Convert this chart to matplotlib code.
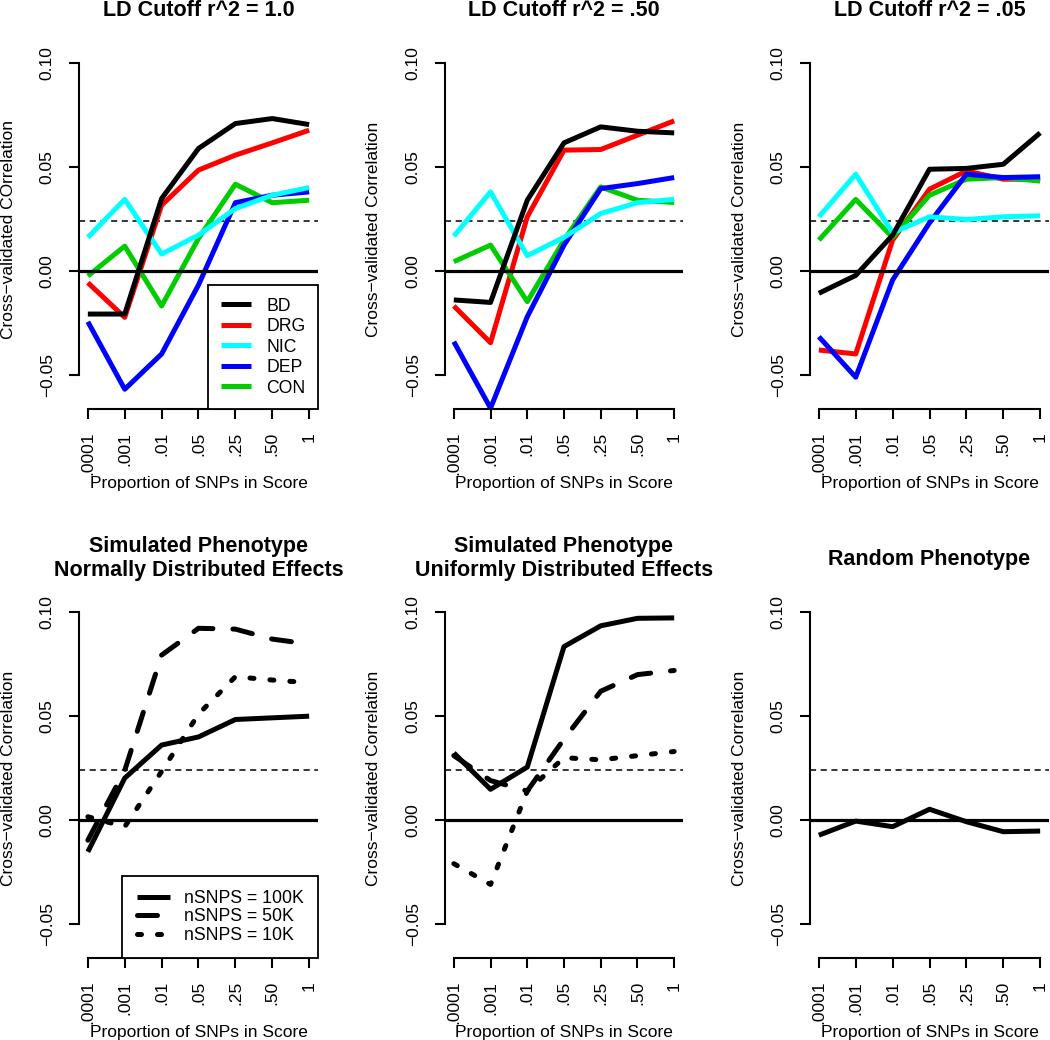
import numpy as np
import matplotlib
matplotlib.use('Agg')
import matplotlib.pyplot as plt

plt.rcParams['font.family'] = ['Liberation Sans', 'DejaVu Sans']

# x categories: proportion of SNPs kept in the score
props = ['.0001', '.001', '.01', '.05', '.25', '.50', '1']
yticks = [-0.05, 0.0, 0.05, 0.10]
ytick_labels = ['\u22120.05', '0.00', '0.05', '0.10']
cutoff = 0.024

phenos = ['BD', 'DRG', 'NIC', 'DEP', 'CON']
pheno_colors = ['black', '#FF0000', '#00FFFF', '#0000FF', '#00CD00']
draw_order = [1, 4, 3, 2, 0]   # DRG, CON, DEP, NIC, BD (last on top)

# rows follow phenos: BD, DRG, NIC, DEP, CON
ld_10 = [[-0.0207, -0.0207, 0.0349, 0.0590, 0.0710, 0.0734, 0.0705],
         [-0.0056, -0.0223, 0.0317, 0.0486, 0.0558, 0.0617, 0.0678],
         [0.0162, 0.0345, 0.0082, 0.0173, 0.0301, 0.0365, 0.0402],
         [-0.0244, -0.0569, -0.0399, -0.0067, 0.0329, 0.0365, 0.0381],
         [-0.0024, 0.0120, -0.0168, 0.0157, 0.0418, 0.0329, 0.0341]]
ld_50 = [[-0.0139, -0.0151, 0.0341, 0.0617, 0.0694, 0.0673, 0.0665],
         [-0.0168, -0.0345, 0.0261, 0.0582, 0.0585, 0.0654, 0.0723],
         [0.0168, 0.0381, 0.0074, 0.0162, 0.0277, 0.0329, 0.0345],
         [-0.0340, -0.0660, -0.0220, 0.0125, 0.0397, 0.0421, 0.0450],
         [0.0045, 0.0125, -0.0147, 0.0149, 0.0405, 0.0341, 0.0330]]
ld_05 = [[-0.0107, -0.0021, 0.0173, 0.0490, 0.0494, 0.0514, 0.0665],
         [-0.0380, -0.0399, 0.0149, 0.0394, 0.0482, 0.0442, 0.0442],
         [0.0261, 0.0466, 0.0184, 0.0261, 0.0248, 0.0261, 0.0266],
         [-0.0316, -0.0511, -0.0043, 0.0232, 0.0466, 0.0450, 0.0454],
         [0.0149, 0.0345, 0.0162, 0.0365, 0.0442, 0.0450, 0.0433]]

nsnps = ['nSNPS = 100K', 'nSNPS = 50K', 'nSNPS = 10K']
nsnps_styles = ['-', (0, (4, 4)), (0, (0.8, 3.2))]

# rows follow nsnps: 100K, 50K, 10K
sim_normal = [[-0.0153, 0.0202, 0.0361, 0.0400, 0.0484, 0.0492, 0.0500],
              [-0.0097, 0.0239, 0.0794, 0.0923, 0.0919, 0.0871, 0.0847],
              [0.0016, -0.0032, 0.0234, 0.0510, 0.0690, 0.0674, 0.0661]]
sim_uniform = [[0.0323, 0.0148, 0.0255, 0.0835, 0.0935, 0.0971, 0.0973],
               [0.0310, 0.0190, 0.0140, 0.0390, 0.0620, 0.0700, 0.0720],
               [-0.0210, -0.0310, 0.0140, 0.0300, 0.0290, 0.0310, 0.0330]]
random_pheno = [-0.0073, -0.0005, -0.0032, 0.0052, -0.0008, -0.0056, -0.0053]

W, H = 1050, 1040
fig = plt.figure(figsize=(W / 100, H / 100), dpi=100)

# plot regions in pixels (left, right) and (top, bottom)
cols = [(79, 318), (445, 683), (810, 1049)]
rows = [(50, 409), (599, 958)]
x = np.arange(1, 8)
LW = 3.6
FS = 12.5


def panel(col, row, title, ylabel):
    x0, x1 = cols[col]
    y0, y1 = rows[row]
    w, h = x1 - x0, y1 - y0
    ax = fig.add_axes([x0 / W, 1 - y1 / H, w / W, h / H])
    ax.set_xlim(0.76, 7.24)
    ax.set_ylim(-0.0664, 0.1064)
    for s in ['top', 'right']:
        ax.spines[s].set_visible(False)
    ax.spines['left'].set_bounds(-0.05, 0.10)
    ax.spines['bottom'].set_bounds(1, 7)
    for s in ['left', 'bottom']:
        ax.spines[s].set_linewidth(1.5)
    ax.set_xticks(x, props, rotation=90, va='top', fontsize=FS)
    ax.set_yticks(yticks, ytick_labels, rotation=90, va='center', fontsize=FS)
    ax.tick_params(axis='both', length=7.5, width=1.5)
    ax.tick_params(axis='x', pad=9)
    ax.tick_params(axis='y', pad=10)
    ax.set_xlabel('Proportion of SNPs in Score', fontsize=FS, va='baseline')
    ax.xaxis.set_label_coords(0.5, -79 / h)
    ax.set_ylabel(ylabel, fontsize=FS, va='center')
    ax.yaxis.set_label_coords(-71 / w, 0.5)
    # title lines, baselines in pixels above the plot region
    lines = title.split('\n')
    offs = [34] if len(lines) == 1 else [47, 23]
    for txt, off in zip(lines, offs):
        ax.text(0.5, 1 + off / h, txt, transform=ax.transAxes,
                ha='center', va='baseline', fontsize=15.5, fontweight='bold')
    ax.axhline(0, color='black', lw=2.3, zorder=3)
    ax.axhline(cutoff, color='black', lw=1.1, ls=(0, (4, 3)), zorder=1)
    return ax


def add_legend(ax, handles, labels, pad, spacing, hlen, tpad):
    leg = ax.legend(handles, labels, loc='lower right', fontsize=12.7,
                    borderaxespad=0, fancybox=False, edgecolor='black',
                    framealpha=1, handlelength=hlen, handletextpad=tpad,
                    labelspacing=spacing, borderpad=pad)
    leg.get_frame().set_linewidth(1.3)
    leg.set_zorder(4)


ld_panels = [(ld_10, 'LD Cutoff r^2 = 1.0', 'Cross\u2212validated COrrelation'),
             (ld_50, 'LD Cutoff r^2 = .50', 'Cross\u2212validated Correlation'),
             (ld_05, 'LD Cutoff r^2 = .05', 'Cross\u2212validated Correlation')]

for i, (vals, title, ylab) in enumerate(ld_panels):
    ax = panel(i, 0, title, ylab)
    handles = [None] * len(phenos)
    for k in draw_order:
        handles[k], = ax.plot(x, vals[k], color=pheno_colors[k], lw=LW,
                              solid_capstyle='butt', solid_joinstyle='round',
                              zorder=2)
    if i == 0:
        add_legend(ax, handles, phenos, 0.7, 0.2, 1.75, 0.85)

sim_panels = [(sim_normal, 'Simulated Phenotype\nNormally Distributed Effects'),
              (sim_uniform, 'Simulated Phenotype\nUniformly Distributed Effects')]

for i, (vals, title) in enumerate(sim_panels):
    ax = panel(i, 1, title, 'Cross\u2212validated Correlation')
    handles = []
    for ls, v in zip(nsnps_styles, vals):
        h, = ax.plot(x, v, color='black', lw=LW, ls=ls, dash_capstyle='round',
                     solid_capstyle='butt', zorder=2)
        handles.append(h)
    if i == 0:
        add_legend(ax, handles, nsnps, 0.8, 0.08, 1.9, 0.8)

ax = panel(2, 1, 'Random Phenotype', 'Cross\u2212validated Correlation')
ax.plot(x, random_pheno, color='black', lw=LW, solid_capstyle='butt', zorder=2)

fig.savefig('out.png', dpi=100)
